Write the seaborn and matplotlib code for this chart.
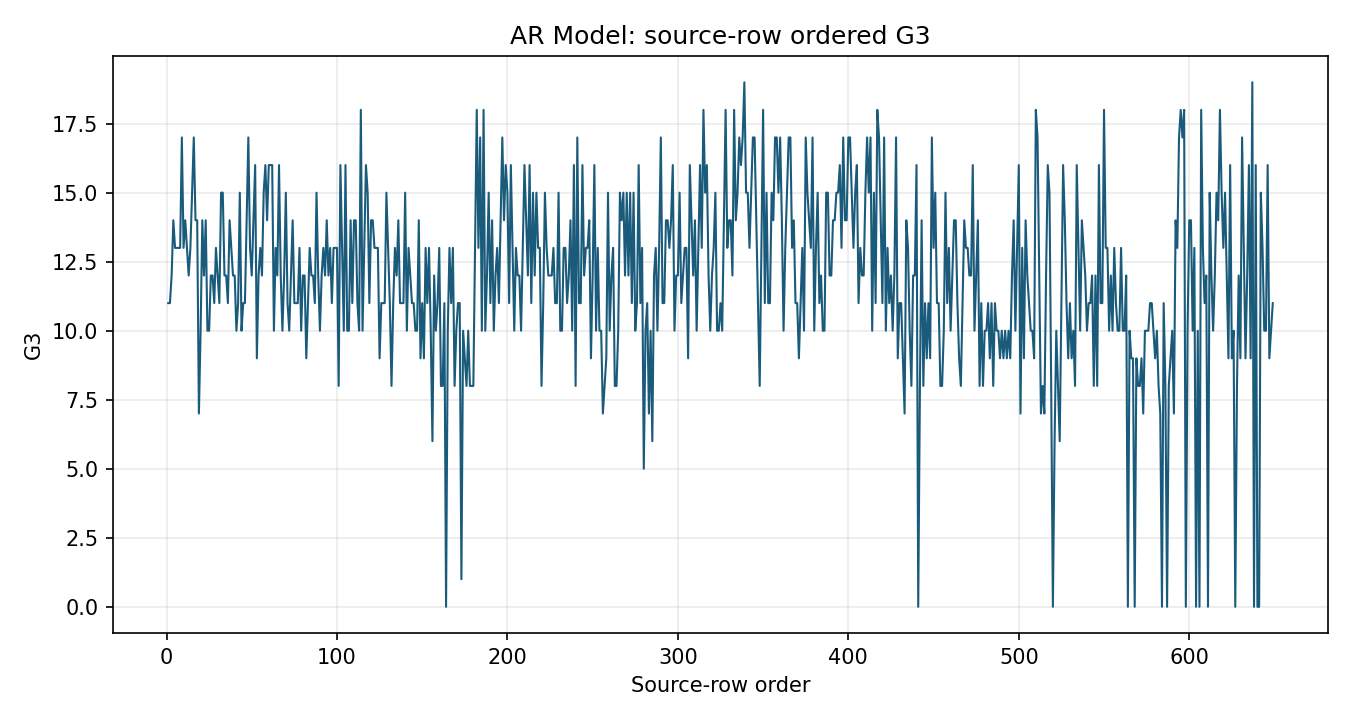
import matplotlib
matplotlib.use("Agg")
import matplotlib.pyplot as plt
import seaborn as sns
import numpy as np
import pandas as pd

# G3 grade per source row, rows 1..649
g3_part_a = [11, 11, 12, 14, 13, 13, 13, 13, 17, 13,
             14, 13, 12, 13, 15, 17, 14, 14, 7, 10,
             14, 12, 14, 10, 10, 12, 12, 11, 13, 12,
             11, 15, 15, 12, 12, 11, 14, 13, 12, 12,
             10, 11, 15, 10, 11, 11, 14, 17, 13, 12,
             14, 16]
g3_part_b = [9, 12, 13, 12, 15, 16, 14, 16, 16, 16,
             10, 13, 12, 16, 12, 10, 12, 15, 11, 10,
             12, 14, 11, 11, 11, 13, 10, 12, 12, 9,
             11, 13, 12, 12, 11, 15, 12, 10, 12, 13,
             12, 14, 12, 13, 11, 13, 13, 13, 8, 16,
             13, 10, 16, 10]
g3_part_c = [10, 14, 11, 14, 14, 11, 10, 18, 10, 13,
             16, 15, 11, 14, 14, 13, 13, 13, 9, 11,
             11, 11, 15, 13, 11, 8, 11, 13, 12, 14,
             11, 11, 11, 15, 10, 13, 12, 11, 11, 10,
             10, 14, 9, 11, 9, 13, 11, 13, 10, 6,
             12, 10, 11, 13]
g3_part_d = [8, 8, 11, 0, 10, 13, 11, 13, 8, 10,
             11, 11, 1, 10, 9, 8, 10, 8, 8, 8,
             13, 18, 13, 17, 10, 18, 10, 12, 15, 11,
             14, 10, 12, 13, 11, 14, 17, 14, 16, 15,
             11, 16, 13, 10, 13, 12, 12, 10, 13, 16,
             14, 12, 16, 11, 15]
g3_part_e = [12, 15, 13, 13, 8, 11, 15, 13, 12, 12,
             12, 13, 11, 11, 15, 10, 10, 13, 13, 11,
             12, 14, 10, 16, 8, 17, 11, 11, 16, 12,
             13, 13, 14, 9, 12, 16, 10, 13, 10, 10,
             7, 8, 9, 15, 10, 12, 13, 8, 8, 10,
             15, 14, 15, 12]
g3_part_f = [15, 12, 15, 11, 15, 10, 11, 16, 11, 13,
             5, 10, 11, 7, 10, 6, 12, 13, 10, 13,
             17, 11, 11, 14, 14, 13, 14, 16, 10, 12,
             12, 15, 11, 12, 13, 13, 9, 16, 14, 12,
             14, 10, 13, 16, 13, 18, 15, 16, 12, 10,
             12, 13, 15, 10, 10]
g3_part_g = [11, 10, 14, 18, 13, 14, 14, 12, 18, 14,
             15, 17, 16, 17, 19, 15, 15, 13, 15, 17,
             17, 14, 11, 8, 13, 18, 11, 15, 11, 11,
             15, 14, 17, 17, 15, 17, 14, 10, 13, 15,
             17, 17, 13, 14, 11, 11, 9, 11, 13, 10,
             17, 15, 14, 13]
g3_part_h = [17, 10, 13, 15, 11, 12, 10, 10, 15, 15,
             12, 12, 14, 14, 15, 15, 16, 13, 17, 14,
             14, 17, 17, 15, 13, 15, 16, 11, 13, 12,
             12, 15, 17, 15, 17, 10, 15, 11, 18, 17,
             14, 11, 17, 10, 13, 11, 12, 10, 12, 17,
             9, 11, 11, 9, 7, 14]
g3_part_i = [13, 10, 8, 12, 12, 16, 0, 8, 14, 8,
             11, 9, 11, 9, 17, 13, 15, 11, 11, 8,
             8, 10, 15, 11, 13, 10, 12, 14, 14, 11,
             9, 8, 11, 14, 13, 13, 12, 12, 16, 10,
             12, 14, 8, 11, 8, 10, 10, 11, 9, 11,
             8, 11, 10, 10]
g3_part_j = [9, 10, 9, 10, 9, 10, 9, 12, 14, 10,
             13, 16, 7, 13, 9, 14, 12, 11, 10, 10,
             9, 18, 17, 12, 7, 8, 7, 12, 16, 15,
             8, 0, 6, 10, 8, 6, 11, 16, 14, 11,
             9, 11, 9, 10, 8, 16, 13, 10, 14, 13,
             12, 10, 11, 11]
g3_part_k = [12, 8, 12, 8, 16, 11, 11, 18, 13, 13,
             10, 12, 10, 13, 11, 10, 10, 13, 10, 10,
             12, 0, 10, 9, 9, 0, 9, 8, 8, 9,
             7, 10, 10, 10, 11, 11, 10, 9, 10, 8,
             7, 0, 11, 8, 0, 8, 9, 10, 7, 14,
             13, 17, 18, 17]
g3_part_l = [18, 0, 10, 14, 14, 10, 13, 0, 10, 0,
             18, 13, 11, 12, 0, 15, 12, 10, 12, 15,
             14, 18, 15, 13, 15, 12, 9, 16, 9, 10,
             0, 8, 12, 9, 17, 13, 9, 12, 16, 9,
             19, 0, 16, 0, 0, 15, 13, 10, 10, 16,
             9, 10, 11]

g3_values = (g3_part_a + g3_part_b + g3_part_c + g3_part_d + g3_part_e + g3_part_f
             + g3_part_g + g3_part_h + g3_part_i + g3_part_j + g3_part_k + g3_part_l)
row_order = list(range(1, len(g3_values) + 1))

title_text = "AR Model: source-row ordered G3"
x_label = "Source-row order"
y_label = "G3"
line_color = "#1a5b7c"

df = pd.DataFrame({"order": row_order, "G3": g3_values})

fig, ax = plt.subplots(figsize=(9, 4.8), dpi=150)
sns.lineplot(data=df, x="order", y="G3", ax=ax, color=line_color, linewidth=1.0)
ax.set_title(title_text, fontsize=12)
ax.set_xlabel(x_label, fontsize=10)
ax.set_ylabel(y_label, fontsize=10)
ax.grid(True, alpha=0.25)
fig.subplots_adjust(left=0.0837, right=0.9837, top=0.9222, bottom=0.1208)
fig.savefig("out.png", dpi=150)
